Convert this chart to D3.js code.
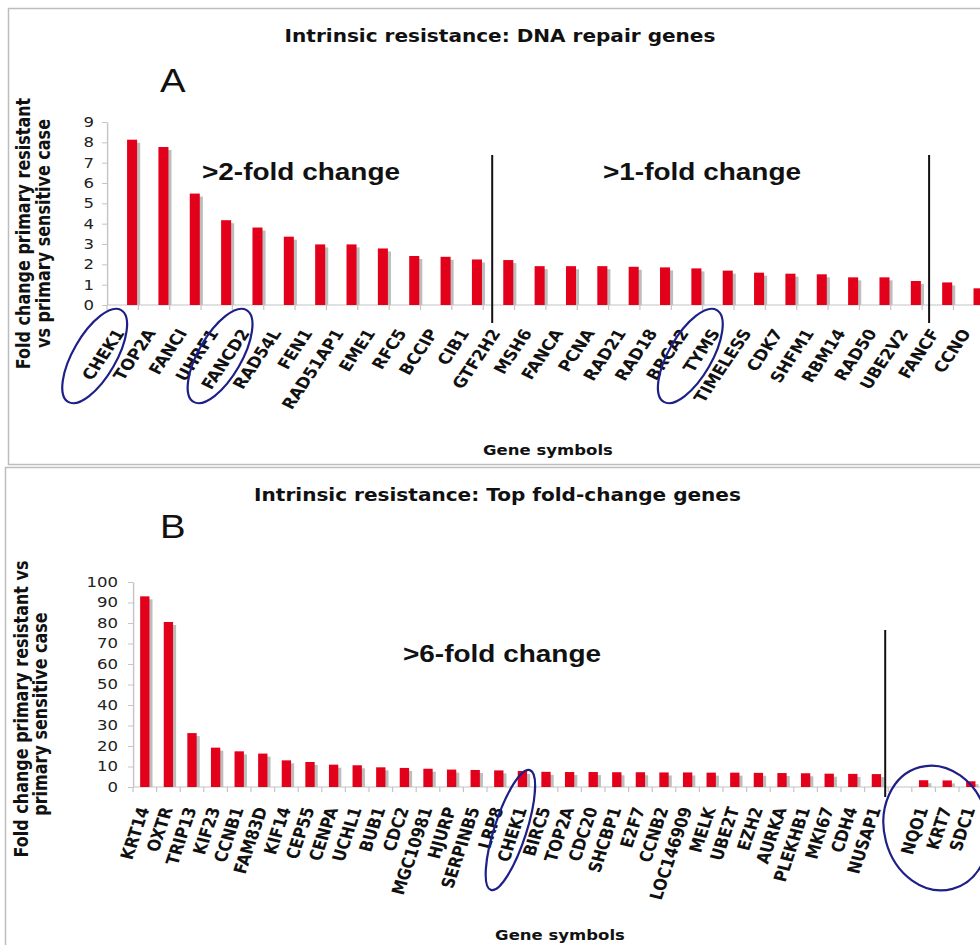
<!DOCTYPE html>
<html><head><meta charset="utf-8">
<script src="https://cdn.jsdelivr.net/npm/d3@7"></script>
<style>body{margin:0;background:#fff}</style>
</head><body><svg id="c" width="980" height="945"></svg>
<script>
// ---------------- DATA ----------------
const genesA = ["CHEK1","TOP2A","FANCI","UHRF1","FANCD2","RAD54L","FEN1","RAD51AP1","EME1","RFC5","BCCIP","CIB1","GTF2H2","MSH6","FANCA","PCNA","RAD21","RAD18","BRCA2","TYMS","TIMELESS","CDK7","SHFM1","RBM14","RAD50","UBE2V2","FANCF","CCNO"];
const foldA = [8.13,7.77,5.48,4.17,3.81,3.36,2.98,2.98,2.78,2.41,2.37,2.24,2.21,1.91,1.91,1.91,1.88,1.85,1.80,1.69,1.59,1.54,1.51,1.36,1.36,1.18,1.11,0.82];
const ticksA = [0,1,2,3,4,5,6,7,8,9];
const circledA = ["CHEK1","FANCD2","TYMS"];
const groupsA = [">2-fold change", ">1-fold change"];

const genesB = ["KRT14","OXTR","TRIP13","KIF23","CCNB1","FAM83D","KIF14","CEP55","CENPA","UCHL1","BUB1","CDC2","MGC10981","HJURP","SERPINB5","LRP8","CHEK1","BIRC5","TOP2A","CDC20","SHCBP1","E2F7","CCNB2","LOC146909","MELK","UBE2T","EZH2","AURKA","PLEKHB1","MKI67","CDH4","NUSAP1"," ","NQO1","KRT7","SDC1"];
const foldB = [93.0,80.5,26.3,19.2,17.4,16.3,13.0,12.2,10.9,10.6,9.6,9.3,8.9,8.5,8.3,8.1,7.8,7.4,7.3,7.3,7.2,7.2,7.1,7.1,7.0,7.0,6.9,6.8,6.7,6.5,6.4,6.3,null,3.3,3.2,2.8];
const ticksB = [0,10,20,30,40,50,60,70,80,90,100];
const circledB = ["CHEK1"];
const circledGroupB = ["NQO1","KRT7","SDC1"];
const groupsB = [">6-fold change"];

// ---------------- LAYOUT ----------------
const SX = 1.18;               // horizontal stretch of the original picture
const ux = x => x / SX;        // screen x -> drawing x
const FONT = "'DejaVu Sans', Verdana, sans-serif";
const AFONT = "'Liberation Sans', Arial, sans-serif";
const RED = "#e2001a", SHADOW = "#bdbdbd", AXIS = "#c4c4c4", NAVY = "#1f1f88";

const svg = d3.select("#c");
svg.append("rect").attr("width",980).attr("height",945).attr("fill","#fff");
svg.append("rect").attr("x",8.5).attr("y",8.5).attr("width",1000).attr("height",456)
  .attr("fill","none").attr("stroke","#bdbdbd").attr("stroke-width",1.5);
svg.append("rect").attr("x",5.5).attr("y",467.5).attr("width",1000).attr("height",500)
  .attr("fill","none").attr("stroke","#bdbdbd").attr("stroke-width",1.5);

const g = svg.append("g").attr("transform",`scale(${SX},1)`);
const over = svg.append("g");

function panel(cfg){
  const n = cfg.genes.length;
  const x = d3.scaleBand().domain(cfg.genes)
     .range([ux(cfg.x0), ux(cfg.x0 + cfg.band*n)]).paddingInner(0).paddingOuter(0);
  const bw = x.bandwidth();
  const y = d3.scaleLinear().domain([0, d3.max(cfg.ticks)]).range([cfg.y0, cfg.yTop]);
  const data = cfg.genes.map((k,i)=>({k, v: cfg.fold[i]})).filter(d=>d.v!=null);

  g.append("line").attr("x1",ux(cfg.x0)).attr("x2",ux(1000)).attr("y1",y(0)).attr("y2",y(0))
    .attr("stroke",AXIS).attr("stroke-width",1.2);
  g.append("g").selectAll("line").data(cfg.genes.concat(["__end"])).join("line")
    .attr("x1",(d,i)=>x.range()[0]+i*bw).attr("x2",(d,i)=>x.range()[0]+i*bw)
    .attr("y1",y(0)).attr("y2",y(0)+5).attr("stroke",AXIS).attr("stroke-width",1);
  const ya = g.append("g").attr("transform",`translate(${ux(cfg.x0)},0)`)
    .call(d3.axisLeft(y).tickValues(cfg.ticks).tickSize(4.2).tickPadding(cfg.tickPad).tickSizeOuter(0));
  ya.select(".domain").attr("stroke",AXIS).attr("stroke-width",1.2);
  ya.selectAll(".tick line").attr("stroke",AXIS);
  ya.selectAll(".tick text").attr("font-family",FONT).attr("font-size",14).attr("fill","#222");

  const bx = d => x(d.k) + cfg.barFrac*bw - cfg.barW/2;
  g.append("g").selectAll("rect").data(data).join("rect")
    .attr("x",d=>bx(d)+2.6).attr("y",d=>y(d.v)+3).attr("width",cfg.barW)
    .attr("height",d=>Math.max(0,y(0)-y(d.v)-3)).attr("fill",SHADOW);
  g.append("g").selectAll("rect").data(data).join("rect")
    .attr("x",bx).attr("y",d=>y(d.v)).attr("width",cfg.barW)
    .attr("height",d=>y(0)-y(d.v)).attr("fill",RED);

  g.append("g").selectAll("text").data(cfg.genes).join("text")
    .attr("transform",d=>`translate(${x(d)+bw/2+cfg.labDx},${cfg.labY}) rotate(${cfg.labAngle})`)
    .attr("text-anchor","end").attr("font-family",FONT).attr("font-weight","bold")
    .attr("font-size",cfg.labSize).attr("fill","#111").text(d=>d);

  cfg.dividers.forEach(dv=>{
    const xx = x(cfg.genes[dv.before]) + ux(dv.off);
    g.append("line").attr("x1",xx).attr("x2",xx).attr("y1",dv.y1).attr("y2",dv.y2)
      .attr("stroke","#111").attr("stroke-width",1.7);
  });

  g.append("text").attr("x",ux(cfg.titleX)).attr("y",cfg.titleY).attr("text-anchor","middle")
    .attr("font-family",FONT).attr("font-weight","bold").attr("font-size",17).attr("fill","#111")
    .text(cfg.title);
  g.append("text").attr("x",ux(cfg.letterX)).attr("y",cfg.letterY)
    .attr("font-family",AFONT).attr("font-size",32.5).attr("fill","#111").text(cfg.letter);
  cfg.groups.forEach((t,i)=>{
    g.append("text").attr("x",ux(cfg.groupX[i])).attr("y",cfg.groupY)
      .attr("font-family",AFONT).attr("font-weight","bold").attr("font-size",23.7).attr("fill","#111").text(t);
  });
  g.append("text").attr("x",ux(cfg.xtX)).attr("y",cfg.xtY).attr("text-anchor","middle")
    .attr("font-family",FONT).attr("font-weight","bold").attr("font-size",14).attr("fill","#111")
    .text("Gene symbols");
  cfg.yTitle.forEach((t,i)=>{
    g.append("text").attr("transform",`translate(${ux(cfg.ytX[i])},${cfg.ytY[i]}) rotate(-90)`)
      .attr("text-anchor","middle").attr("font-family",FONT).attr("font-weight","bold")
      .attr("font-size",16).attr("fill","#111").text(t);
  });

  cfg.ellipses.forEach(e=>{
    const cx = (x(e.gene)+bw/2)*SX + e.dx;
    over.append("ellipse").attr("transform",`translate(${cx},${e.cy}) rotate(${e.rot})`)
      .attr("rx",e.rx).attr("ry",e.ry).attr("fill","none").attr("stroke",NAVY).attr("stroke-width",2.2);
  });
}

panel({
  genes: genesA, fold: foldA, ticks: ticksA,
  x0: 107, band: 31.35, y0: 305, yTop: 122, tickPad: 6.8,
  barFrac: 0.8, barW: 8.5,
  labDx: 2, labY: 333, labAngle: -60, labSize: 15,
  dividers: [{before:12, off:9, y1:155, y2:323},{before:26, off:7, y1:155, y2:323}],
  title: "Intrinsic resistance: DNA repair genes", titleX: 500, titleY: 42,
  letter: "A", letterX: 160, letterY: 92,
  groups: groupsA, groupX: [202, 603], groupY: 180,
  xtX: 548, xtY: 455,
  yTitle: ["Fold change primary resistant","vs primary sensitive case"], ytX: [29.5, 49.5], ytY: [233.5, 233.5],
  ellipses: circledA.map(k=>({gene:k, dx:-28, cy:356, rx:53, ry:21.5, rot:-60}))
});

panel({
  genes: genesB, fold: foldB, ticks: ticksB,
  x0: 133, band: 23.6, y0: 787, yTop: 582, tickPad: 8.5,
  barFrac: 0.5, barW: 7.9,
  labDx: 4, labY: 809, labAngle: -74, labSize: 15,
  dividers: [{before:32, off:-3, y1:630, y2:797}],
  title: "Intrinsic resistance: Top fold-change genes", titleX: 497.5, titleY: 501,
  letter: "B", letterX: 160, letterY: 538,
  groups: groupsB, groupX: [403], groupY: 662,
  xtX: 560, xtY: 940,
  yTitle: ["Fold change primary resistant vs","primary sensitive case"], ytX: [27.5, 47], ytY: [709, 714],
  ellipses: circledB.map(k=>({gene:k, dx:-12, cy:830, rx:63, ry:16, rot:-72}))
    .concat([{gene: circledGroupB[1], dx:-11, cy:828, rx:52, ry:63, rot:-15}])
});
</script></body></html>
